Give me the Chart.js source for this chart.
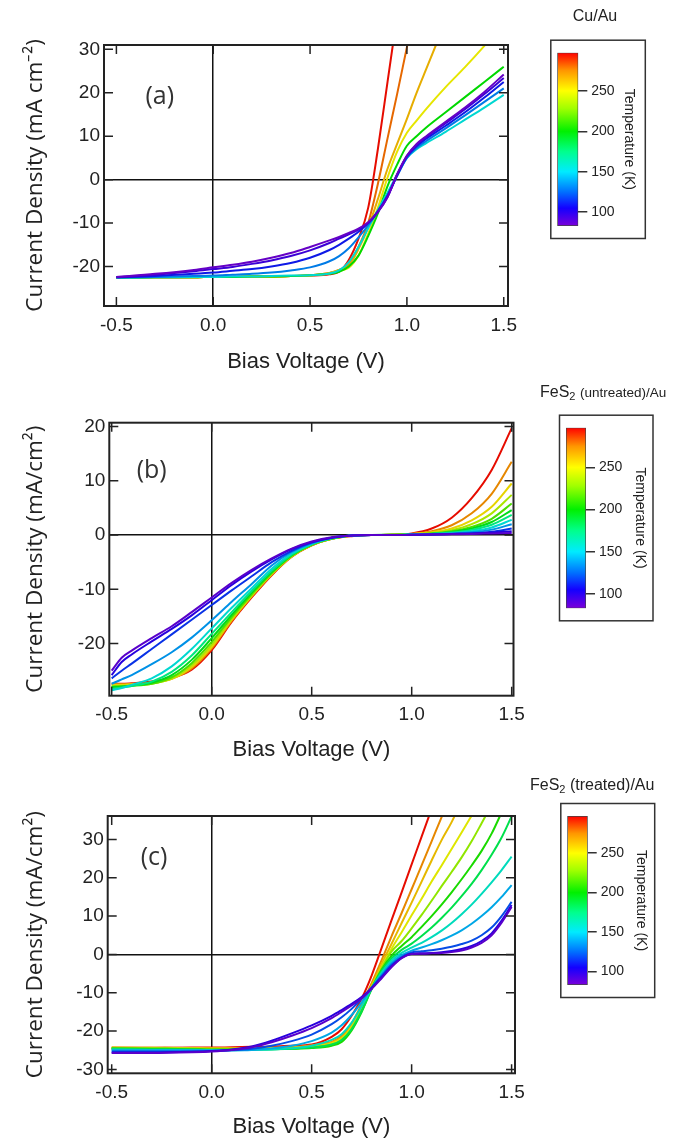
<!DOCTYPE html>
<html>
<head>
<meta charset="utf-8">
<script src="https://cdn.jsdelivr.net/npm/chart.js@4.4.1/dist/chart.umd.min.js"></script>
<style>
  body { margin: 0; background: #fff; }
  #wrap { position: relative; width: 690px; height: 1144px; overflow: hidden; }
  canvas { position: absolute; }
  .cap { position: absolute; font: 16px "Liberation Sans", Arial, sans-serif; line-height: 20px; color: #222; white-space: nowrap; }
  .cap sub { font-size: 11px; vertical-align: -3px; line-height: 0; }
</style>
</head>
<body>
<div id="wrap">
  <canvas id="ivA" width="540" height="380" style="left:0;top:0"></canvas>
  <canvas id="ivB" width="545" height="386" style="left:0;top:380px"></canvas>
  <canvas id="ivC" width="545" height="384" style="left:0;top:760px"></canvas>
  <canvas id="cbA" width="110" height="245" style="left:540px;top:0"></canvas>
  <canvas id="cbB" width="132" height="245" style="left:540px;top:380px"></canvas>
  <canvas id="cbC" width="132" height="240" style="left:530px;top:770px"></canvas>
  <div class="cap" style="left:545px;top:6px;width:100px;text-align:center">Cu/Au</div>
  <div class="cap" style="left:540px;top:382px">FeS<sub>2</sub> <span style="font-size:13.5px">(untreated)/Au</span></div>
  <div class="cap" style="left:530px;top:775px">FeS<sub>2</sub> (treated)/Au</div>
</div>
<script>
// ---- data ----
const voltTicks = [-0.5, 0, 0.5, 1.0, 1.5];
const tempTicks = [100, 150, 200, 250];
const tempRange = [83, 297];

// (a) Cu/Au
const voltsA = [-0.5, -0.3, -0.1, 0, 0.1, 0.2, 0.3, 0.4, 0.5, 0.6, 0.65, 0.7, 0.75, 0.8, 0.85, 0.9, 0.95, 1.0, 1.05, 1.1, 1.2, 1.3, 1.4, 1.5];
const tempsA = [85, 95, 110, 130, 155, 200, 250, 265, 280, 295];
const currentA = [
  [-22.4, -21.7, -20.8, -20.2, -19.6, -18.9, -18.0, -16.9, -15.5, -14.0, -13.2, -12.3, -11.3, -9.8, -7.4, -4.0, 1.3, 5.5, 8.2, 10.0, 13.3, 16.6, 20.2, 24.2],
  [-22.5, -21.9, -21.1, -20.6, -20.1, -19.4, -18.6, -17.6, -16.3, -14.6, -13.6, -12.6, -11.5, -10.0, -7.5, -4.0, 1.2, 5.5, 8.0, 9.8, 13.0, 16.2, 19.7, 23.4],
  [-22.5, -22.2, -21.7, -21.4, -21.0, -20.6, -20.0, -19.2, -18.0, -16.2, -15.0, -13.6, -12.0, -10.0, -7.3, -3.7, 1.0, 5.3, 7.7, 9.4, 12.4, 15.5, 18.9, 22.5],
  [-22.5, -22.4, -22.2, -22.1, -21.9, -21.7, -21.4, -20.9, -20.2, -18.8, -17.6, -15.8, -13.3, -10.5, -7.3, -3.6, 0.9, 5.0, 7.3, 8.9, 11.8, 14.8, 17.9, 21.0],
  [-22.6, -22.5, -22.4, -22.4, -22.3, -22.3, -22.2, -22.1, -22.0, -21.6, -20.9, -19.0, -15.5, -11.2, -7.0, -3.0, 1.2, 5.0, 7.0, 8.4, 11.0, 13.8, 16.6, 19.5],
  [-22.6, -22.5, -22.5, -22.4, -22.4, -22.3, -22.3, -22.2, -22.0, -21.7, -21.2, -20.0, -17.5, -13.0, -7.8, -1.5, 3.5, 7.8, 10.0, 12.0, 15.5, 19.0, 22.5, 26.0],
  [-22.6, -22.5, -22.5, -22.4, -22.4, -22.3, -22.3, -22.2, -22.0, -21.6, -21.0, -20.3, -17.5, -12.5, -6.5, 0.5, 6.5, 10.8, 13.6, 16.3, 21.3, 25.9, 30.8, 36.0],
  [-22.6, -22.5, -22.5, -22.4, -22.4, -22.3, -22.3, -22.2, -22.0, -21.5, -20.8, -19.8, -16.0, -11.0, -4.5, 2.5, 8.3, 14.0, 20.0, 25.5, 36.5, null, null, null],
  [-22.6, -22.5, -22.5, -22.4, -22.4, -22.3, -22.3, -22.2, -22.0, -21.5, -20.8, -19.5, -15.5, -10.0, -1.0, 9.5, 19.8, 30.5, 41.0, null, null, null, null, null],
  [-22.6, -22.5, -22.5, -22.4, -22.4, -22.3, -22.3, -22.2, -22.1, -21.8, -21.2, -18.5, -13.6, -6.5, 7.0, 22.5, 38.0, null, null, null, null, null, null, null]
];
const currentTicksA = [-20, -10, 0, 10, 20, 30];

// (b) FeS2 (untreated)/Au
const voltsB = [-0.5, -0.45, -0.4, -0.3, -0.2, -0.1, 0, 0.1, 0.2, 0.3, 0.4, 0.5, 0.6, 0.7, 0.8, 0.9, 1.0, 1.1, 1.2, 1.3, 1.4, 1.5];
const tempsB = [88, 100, 115, 135, 155, 175, 195, 215, 235, 255, 275, 295];
const currentB = [
  [-25.0, -22.6, -21.3, -19.0, -16.8, -14.2, -11.5, -8.8, -6.4, -4.3, -2.5, -1.2, -0.4, -0.1, 0, 0, 0.05, 0.1, 0.15, 0.2, 0.3, 0.4],
  [-25.8, -23.4, -22.0, -19.6, -17.3, -14.8, -12.0, -9.2, -6.7, -4.5, -2.6, -1.3, -0.5, -0.1, 0, 0, 0.05, 0.1, 0.2, 0.3, 0.45, 0.7],
  [-26.4, -25.0, -23.7, -21.0, -18.3, -15.6, -12.9, -10.2, -7.6, -5.0, -2.9, -1.4, -0.5, -0.1, 0, 0, 0.05, 0.1, 0.2, 0.3, 0.6, 1.2],
  [-27.4, -26.6, -25.8, -23.8, -21.6, -18.9, -15.7, -12.3, -9.0, -5.6, -3.1, -1.5, -0.5, -0.1, 0, 0, 0.05, 0.15, 0.3, 0.5, 1.0, 2.0],
  [-28.6, -28.2, -27.6, -26.4, -24.2, -21.0, -17.2, -13.4, -9.8, -6.2, -3.4, -1.6, -0.6, -0.1, 0, 0, 0.1, 0.2, 0.35, 0.7, 1.4, 2.8],
  [-28.4, -28.1, -27.8, -27.0, -25.2, -22.2, -18.2, -14.2, -10.3, -6.6, -3.6, -1.7, -0.6, -0.1, 0, 0, 0.1, 0.2, 0.45, 0.95, 1.9, 3.7],
  [-28.0, -27.9, -27.7, -27.2, -25.8, -23.0, -19.0, -14.7, -10.6, -6.8, -3.7, -1.7, -0.6, -0.1, 0, 0.05, 0.1, 0.25, 0.55, 1.2, 2.4, 4.6],
  [-28.0, -27.9, -27.8, -27.4, -26.2, -23.6, -19.7, -15.1, -10.9, -7.0, -3.8, -1.8, -0.7, -0.1, 0, 0.05, 0.15, 0.3, 0.7, 1.5, 3.0, 5.8],
  [-27.8, -27.8, -27.7, -27.4, -26.4, -24.0, -20.2, -15.4, -11.1, -7.1, -3.9, -1.8, -0.7, -0.1, 0, 0.05, 0.15, 0.4, 0.9, 2.0, 4.0, 7.4],
  [-27.6, -27.6, -27.5, -27.3, -26.5, -24.3, -20.6, -15.6, -11.2, -7.2, -3.9, -1.8, -0.7, -0.1, 0, 0.05, 0.2, 0.5, 1.2, 2.7, 5.2, 9.5],
  [-27.5, -27.5, -27.4, -27.2, -26.5, -24.6, -20.9, -15.8, -11.3, -7.3, -4.0, -1.9, -0.7, -0.1, 0, 0.05, 0.2, 0.7, 1.8, 4.0, 7.6, 13.5],
  [-27.4, -27.4, -27.3, -27.0, -26.3, -24.8, -21.2, -16.0, -11.5, -7.4, -4.0, -1.9, -0.7, -0.2, 0, 0.05, 0.3, 1.2, 3.2, 6.8, 12.0, 19.7]
];
const currentTicksB = [-20, -10, 0, 10, 20];

// (c) FeS2 (treated)/Au
const voltsC = [-0.5, -0.3, -0.1, 0, 0.1, 0.2, 0.3, 0.4, 0.5, 0.6, 0.65, 0.7, 0.75, 0.8, 0.85, 0.9, 0.95, 1.0, 1.05, 1.1, 1.15, 1.2, 1.25, 1.3, 1.35, 1.4, 1.45, 1.5];
const tempsC = [88, 100, 120, 140, 160, 185, 205, 228, 248, 262, 275, 295];
const currentC = [
  [-25.7, -25.7, -25.5, -25.3, -24.9, -24.2, -22.9, -21.2, -19.2, -16.6, -15.0, -13.3, -11.4, -9.0, -6.2, -3.3, -1.0, 0.1, 0.2, 0.3, 0.4, 0.6, 1.0, 1.8, 3.0, 5.0, 8.3, 12.4],
  [-25.6, -25.6, -25.4, -25.2, -24.8, -24.0, -22.5, -20.6, -18.5, -16.0, -14.5, -12.9, -11.1, -8.8, -6.0, -3.1, -0.9, 0.2, 0.3, 0.4, 0.6, 0.9, 1.4, 2.2, 3.5, 5.5, 8.8, 12.9],
  [-25.3, -25.3, -25.3, -25.2, -25.0, -24.6, -23.8, -22.6, -20.9, -18.2, -16.4, -14.2, -11.6, -8.6, -5.6, -2.7, -0.7, 0.5, 0.8, 1.1, 1.5, 2.0, 2.7, 3.6, 5.0, 7.0, 10.0, 13.7],
  [-25.0, -25.0, -25.0, -25.0, -25.0, -24.9, -24.5, -23.8, -22.6, -20.4, -18.5, -15.8, -12.5, -8.8, -5.3, -2.2, -0.2, 1.0, 1.8, 2.7, 3.7, 4.9, 6.3, 8.0, 10.0, 12.3, 15.0, 18.1],
  [-24.8, -24.9, -25.0, -25.0, -25.0, -24.9, -24.8, -24.5, -23.8, -22.3, -20.8, -17.8, -13.5, -8.8, -4.8, -1.6, 0.4, 1.8, 3.0, 4.5, 6.2, 8.2, 10.5, 13.0, 15.8, 18.8, 22.0, 25.5],
  [-24.6, -24.7, -24.8, -24.9, -24.9, -24.8, -24.7, -24.6, -24.3, -23.5, -22.3, -19.5, -14.8, -9.0, -4.3, -1.0, 1.2, 2.8, 4.8, 7.0, 9.5, 12.2, 15.2, 18.4, 22.0, 26.0, 30.5, 36.0],
  [-24.5, -24.6, -24.7, -24.8, -24.8, -24.7, -24.7, -24.6, -24.4, -23.8, -22.8, -19.8, -15.0, -9.0, -4.0, -0.3, 2.2, 4.5, 7.2, 10.0, 13.0, 16.2, 19.6, 23.2, 27.0, 31.5, 37.0, null],
  [-24.4, -24.5, -24.6, -24.7, -24.7, -24.6, -24.6, -24.5, -24.2, -23.5, -22.3, -19.3, -14.5, -8.6, -3.6, 0.8, 3.5, 6.8, 10.3, 14.0, 17.8, 21.5, 25.3, 29.5, 34.2, 39.0, null, null],
  [-24.4, -24.4, -24.5, -24.6, -24.6, -24.5, -24.5, -24.4, -24.0, -23.2, -22.0, -19.0, -14.2, -8.5, -3.3, 1.5, 5.8, 10.2, 14.5, 19.0, 23.2, 27.5, 31.8, 36.2, null, null, null, null],
  [-24.3, -24.4, -24.4, -24.5, -24.5, -24.5, -24.4, -24.3, -23.9, -23.0, -21.7, -18.6, -13.8, -8.2, -2.5, 2.8, 8.2, 13.5, 19.0, 24.5, 29.8, 34.5, 40.0, null, null, null, null, null],
  [-24.3, -24.3, -24.4, -24.4, -24.4, -24.4, -24.3, -24.2, -23.7, -22.8, -21.3, -18.0, -13.0, -7.5, -1.5, 4.8, 10.8, 17.0, 23.2, 29.5, 35.8, 42.0, null, null, null, null, null, null],
  [-24.5, -24.4, -24.3, -24.3, -24.2, -24.1, -24.0, -23.8, -23.5, -21.5, -19.5, -16.0, -11.5, -5.5, 1.7, 9.0, 16.2, 23.5, 30.7, 38.0, null, null, null, null, null, null, null, null]
];
const currentTicksC = [-30, -20, -10, 0, 10, 20, 30];

// ---- colour scale (temperature -> rainbow) ----
const rainbow = [
  [83, [122, 0, 217]], [105, [20, 0, 255]], [125, [0, 112, 255]], [150, [0, 235, 255]],
  [175, [0, 255, 140]], [200, [0, 240, 0]], [228, [160, 255, 0]], [250, [255, 255, 0]],
  [275, [255, 150, 0]], [297, [255, 0, 0]]
];

function tempColor(t) {
  for (let i = 1; i < rainbow.length; i++) {
    const [t0, c0] = rainbow[i - 1];
    const [t1, c1] = rainbow[i];
    if (t <= t1) {
      const f = (t - t0) / (t1 - t0);
      return c0.map((v, k) => v + (c1[k] - v) * f);
    }
  }
  return rainbow[rainbow.length - 1][1];
}

function lineColor(t) {
  const c = tempColor(t).map(v => Math.round(v * 0.9));
  return 'rgb(' + c.join(',') + ')';
}

const ink = '#222';
const tickFont = {family: 'Liberation Sans', size: 19};
const zeroLine = c => (c.tick && c.tick.value === 0) ? '#111' : 'rgba(0,0,0,0)';

// frame, inside tick marks and panel letter
const framePlugin = {
  id: 'frame',
  afterDatasetsDraw(chart, args, opts) {
    const {ctx, chartArea: a, scales: {x, y}} = chart;
    ctx.save();
    ctx.strokeStyle = ink;
    ctx.lineWidth = 1.5;
    ctx.beginPath();
    x.ticks.forEach(t => {
      const px = x.getPixelForValue(t.value);
      ctx.moveTo(px, a.bottom); ctx.lineTo(px, a.bottom - 9);
      ctx.moveTo(px, a.top); ctx.lineTo(px, a.top + 9);
    });
    y.ticks.forEach(t => {
      const py = y.getPixelForValue(t.value);
      ctx.moveTo(a.left, py); ctx.lineTo(a.left + 9, py);
      ctx.moveTo(a.right, py); ctx.lineTo(a.right - 9, py);
    });
    ctx.stroke();
    ctx.lineWidth = 2;
    ctx.strokeRect(a.left, a.top, a.right - a.left, a.bottom - a.top);
    ctx.font = '25px "Open Sans"';
    ctx.fillStyle = '#333';
    ctx.textAlign = 'center';
    ctx.textBaseline = 'middle';
    ctx.fillText(opts.letter, a.left + opts.lx, a.top + opts.ly);
    ctx.restore();
  }
};

function ivChart(id, volts, temps, rows, o) {
  const datasets = temps.map((t, i) => ({
    label: t + ' K',
    data: volts.map((v, j) => ({x: v, y: rows[i][j]})),
    borderColor: lineColor(t),
    borderWidth: 2,
    pointRadius: 0,
    fill: false,
    spanGaps: false,
    cubicInterpolationMode: 'monotone'
  }));
  return new Chart(document.getElementById(id), {
    type: 'line',
    data: {datasets},
    options: {
      responsive: false,
      animation: false,
      layout: {padding: o.pad},
      plugins: {
        legend: {display: false},
        tooltip: {enabled: false},
        frame: {letter: o.letter, lx: o.lx, ly: o.ly}
      },
      scales: {
        x: {
          type: 'linear', min: o.xMin, max: o.xMax, bounds: 'data',
          afterBuildTicks: s => { s.ticks = voltTicks.map(v => ({value: v})); },
          afterFit: s => { s.height = o.xH; },
          ticks: {font: tickFont, color: ink, padding: 8, autoSkip: false, maxRotation: 0,
                  callback: v => Number(v).toFixed(1)},
          grid: {drawTicks: false, color: zeroLine, lineWidth: 1.5},
          border: {display: false},
          title: {display: true, text: 'Bias Voltage (V)', color: ink,
                  font: {family: 'Liberation Sans', size: 22}, padding: {top: 0, bottom: o.xTitlePad}}
        },
        y: {
          type: 'linear', min: o.yMin, max: o.yMax, bounds: 'data',
          afterBuildTicks: s => { s.ticks = o.yTicks.map(v => ({value: v})); },
          afterFit: s => { s.width = o.yW; },
          ticks: {font: tickFont, color: ink, padding: 4, autoSkip: false, callback: v => String(v)},
          grid: {drawTicks: false, color: zeroLine, lineWidth: 1.5},
          border: {display: false},
          title: {display: true, text: o.yTitle, color: ink,
                  font: {family: 'Open Sans', size: 22.5}, padding: {top: 22.5, bottom: 0}}
        }
      }
    },
    plugins: [framePlugin]
  });
}

// colour bar box
const boxPlugin = {
  id: 'cbox',
  afterDraw(chart) {
    const {ctx, chartArea: a} = chart;
    ctx.save();
    ctx.strokeStyle = '#333';
    ctx.lineWidth = 1.5;
    ctx.strokeRect(a.left - 6.5, a.top - 12.5, (a.right + 67) - (a.left - 6.5), (a.bottom - a.top) + 25);
    ctx.restore();
  }
};

function barGradient(c) {
  const {ctx, chartArea, scales} = c.chart;
  if (!chartArea) return 'rgba(0,0,0,0)';
  const y = scales.y;
  const g = ctx.createLinearGradient(0, y.getPixelForValue(tempRange[0]), 0, y.getPixelForValue(tempRange[1]));
  rainbow.forEach(([t, rgb]) => g.addColorStop((t - tempRange[0]) / (tempRange[1] - tempRange[0]), 'rgb(' + rgb.join(',') + ')'));
  return g;
}

function colorBar(id, o) {
  return new Chart(document.getElementById(id), {
    type: 'bar',
    data: {
      labels: ['T'],
      datasets: [{data: [tempRange], backgroundColor: barGradient, borderColor: '#444', borderWidth: 1,
                  borderSkipped: false, barPercentage: 1, categoryPercentage: 1}]
    },
    options: {
      responsive: false,
      animation: false,
      layout: {padding: o.pad},
      plugins: {legend: {display: false}, tooltip: {enabled: false}},
      scales: {
        x: {display: false},
        y: {
          position: 'right', min: tempRange[0], max: tempRange[1], bounds: 'data',
          afterBuildTicks: s => { s.ticks = tempTicks.map(v => ({value: v})); },
          afterFit: s => { s.width = o.yW; },
          ticks: {font: {family: 'Liberation Sans', size: 14}, color: ink, padding: 4},
          grid: {drawOnChartArea: false, tickLength: 9, color: '#333', lineWidth: 1.5},
          border: {display: false},
          title: {display: true, text: 'Temperature (K)', color: ink,
                  font: {family: 'Liberation Sans', size: 14}, padding: {top: o.tp, bottom: 0}}
        }
      }
    },
    plugins: [boxPlugin]
  });
}

ivChart('ivA', voltsA, tempsA, currentA, {
  pad: {top: 45, left: 0, right: 32, bottom: 2}, yW: 104, xH: 72, xTitlePad: 2.8,
  xMin: -0.564, xMax: 1.522, yMin: -29.1, yMax: 31.0, yTicks: currentTicksA,
  yTitle: 'Current Density (mA cm\u207B\u00B2)', letter: '(a)', lx: 55.7, ly: 51.7
});
ivChart('ivB', voltsB, tempsB, currentB, {
  pad: {top: 42.7, left: 0, right: 31.5, bottom: 2}, yW: 109.3, xH: 68.3, xTitlePad: 0.8,
  xMin: -0.512, xMax: 1.509, yMin: -29.6, yMax: 20.7, yTicks: currentTicksB,
  yTitle: 'Current Density (mA/cm\u00B2)', letter: '(b)', lx: 42.4, ly: 48.1
});
ivChart('ivC', voltsC, tempsC, currentC, {
  pad: {top: 56, left: 0, right: 30, bottom: 2}, yW: 107.7, xH: 68.7, xTitlePad: 1.8,
  xMin: -0.52, xMax: 1.517, yMin: -31.0, yMax: 36.1, yTicks: currentTicksC,
  yTitle: 'Current Density (mA/cm\u00B2)', letter: '(c)', lx: 46.3, ly: 41.5
});

colorBar('cbA', {pad: {left: 17.3, top: 52.7, right: 11.7, bottom: 19}, yW: 60, tp: 0.9});
colorBar('cbB', {pad: {left: 26, top: 47.7, right: 22, bottom: 16.7}, yW: 64, tp: 1.6});
colorBar('cbC', {pad: {left: 37.3, top: 46, right: 12.3, bottom: 25}, yW: 62, tp: 0.3});
</script>
</body>
</html>
